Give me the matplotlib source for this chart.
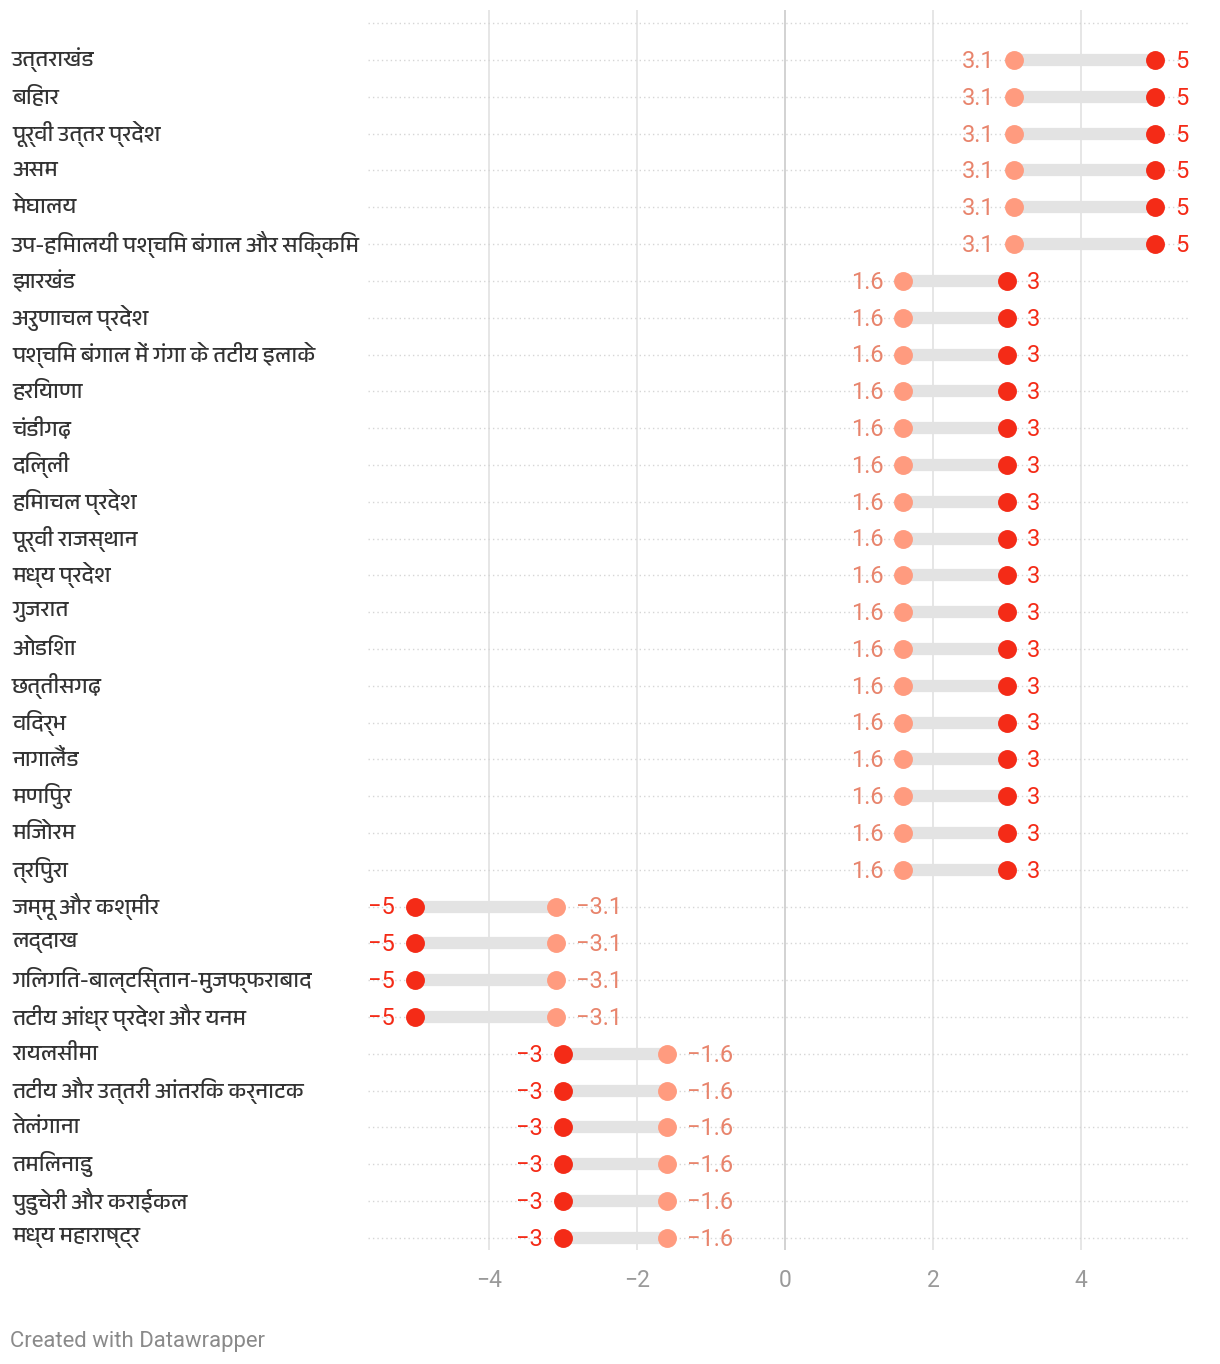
import matplotlib
matplotlib.use("Agg")
import matplotlib.pyplot as plt
from matplotlib import font_manager
import numpy as np

# ---------------- data ----------------
regions = [
    "उत्तराखंड", "बिहार", "पूर्वी उत्तर प्रदेश", "असम", "मेघालय",
    "उप-हिमालयी पश्चिम बंगाल और सिक्किम",
    "झारखंड", "अरुणाचल प्रदेश", "पश्चिम बंगाल में गंगा के तटीय इलाके", "हरियाणा",
    "चंडीगढ़", "दिल्ली", "हिमाचल प्रदेश", "पूर्वी राजस्थान", "मध्य प्रदेश", "गुजरात",
    "ओडिशा", "छत्तीसगढ़", "विदर्भ", "नागालैंड", "मणिपुर", "मिजोरम", "त्रिपुरा",
    "जम्मू और कश्मीर", "लद्दाख", "गिलगित-बाल्टिस्तान-मुजफ्फराबाद", "तटीय आंध्र प्रदेश और यनम",
    "रायलसीमा", "तटीय और उत्तरी आंतरिक कर्नाटक", "तेलंगाना", "तमिलनाडु",
    "पुडुचेरी और कराईकल", "मध्य महाराष्ट्र",
]
light_vals = [3.1] * 6 + [1.6] * 17 + [-3.1] * 4 + [-1.6] * 6
dark_vals = [5] * 6 + [3] * 17 + [-5] * 4 + [-3] * 6
x_ticks = [-4, -2, 0, 2, 4]
credit = "Created with Datawrapper"

# ---------------- fonts ----------------
deva_name = None
try:
    from fontTools.ttLib import TTFont
    cands = sorted(font_manager.findSystemFonts(), key=lambda p: (("Devanagari" not in p), p))
    for p in cands:
        try:
            tt = TTFont(p, fontNumber=0, lazy=True)
            cmap = tt.getBestCmap() or {}
            if 0x0915 in cmap and 0x093F in cmap:
                font_manager.fontManager.addfont(p)
                deva_name = font_manager.FontProperties(fname=p).get_name()
                break
        except Exception:
            continue
except Exception:
    pass

label_family = ([deva_name] if deva_name else []) + ["Noto Sans", "DejaVu Sans"]
num_family = ["Roboto", "DejaVu Sans"]
plt.rcParams["font.family"] = num_family

def fmt(v):
    s = f"{v:g}"
    return s.replace("-", "\u2212")

# ---------------- colours ----------------
DARK = "#f42b17"
LIGHT = "#ff9b7f"
LIGHT_TXT = "#e8846c"
BAR = "#e3e3e3"

W, H = 1220, 1364
fig = plt.figure(figsize=(W / 100, H / 100), dpi=100)
ax_l, ax_r, ax_t, ax_b = 368, 1190, 10, 1250
ax = fig.add_axes([ax_l / W, 1 - ax_b / H, (ax_r - ax_l) / W, (ax_b - ax_t) / H])

n = len(regions)
ys = np.arange(n)
ax.set_xlim(-5.635, 5.473)
ax.set_ylim(32.33, -1.36)

for s in ax.spines.values():
    s.set_visible(False)

# gridlines
for t in x_ticks:
    ax.axvline(t, color="#cfcfcf" if t == 0 else "#e4e4e4", lw=1.3, zorder=0)
for y in list(ys) + [-1]:
    ax.axhline(y, color="#d6d6d6", lw=1.0, ls=(0, (1, 2.2)), zorder=0.5)

# bars and dots
for y, lv, dv in zip(ys, light_vals, dark_vals):
    ax.plot([lv, dv], [y, y], color=BAR, lw=8.8, solid_capstyle="butt", zorder=1)
ax.scatter(light_vals, ys, s=13.6 ** 2, color=LIGHT, zorder=3, linewidths=0)
ax.scatter(dark_vals, ys, s=13.6 ** 2, color=DARK, zorder=3, linewidths=0)

# value labels
off = 14.5
dy = -1.0
vfs = 17
for y, lv, dv in zip(ys, light_vals, dark_vals):
    if dv > lv:
        ax.annotate(fmt(dv), (dv, y), xytext=(off, dy), textcoords="offset points",
                    ha="left", va="center", color=DARK, fontsize=vfs, zorder=4)
        ax.annotate(fmt(lv), (lv, y), xytext=(-off, dy), textcoords="offset points",
                    ha="right", va="center", color=LIGHT_TXT, fontsize=vfs, zorder=4)
    else:
        ax.annotate(fmt(dv), (dv, y), xytext=(-off, dy), textcoords="offset points",
                    ha="right", va="center", color=DARK, fontsize=vfs, zorder=4)
        ax.annotate(fmt(lv), (lv, y), xytext=(off, dy), textcoords="offset points",
                    ha="left", va="center", color=LIGHT_TXT, fontsize=vfs, zorder=4)

# ticks
ax.set_xticks(x_ticks)
ax.set_xticklabels([fmt(t) for t in x_ticks], color="#9a9a9a", fontsize=16.5)
ax.tick_params(axis="x", length=0, pad=14)
ax.set_yticks([])

# row labels
for y, name in zip(ys, regions):
    fy = 1 - (ax_t + (y + 1.36) / (32.33 + 1.36) * (ax_b - ax_t)) / H
    fig.text(12 / W, fy, name, ha="left", va="center", fontsize=16,
             color="#333333", family=label_family)

fig.text(10 / W, 1 - 1341 / H, credit, ha="left", va="center", fontsize=15.9,
         color="#8a8a8a", family=num_family)

fig.savefig("out.png", dpi=100, facecolor="white")
